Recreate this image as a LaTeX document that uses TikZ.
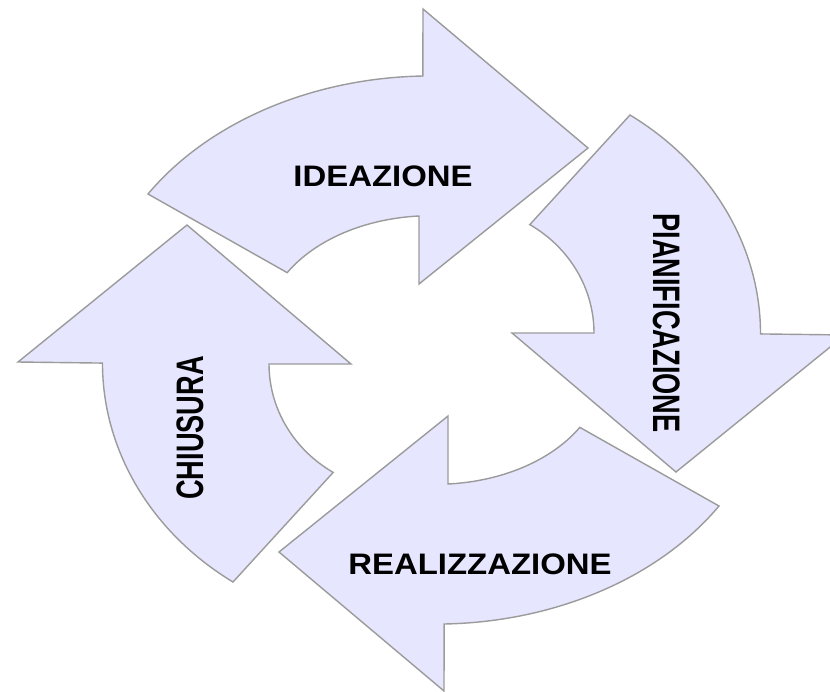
\documentclass[tikz,border=0pt]{standalone}
\usepackage{fontspec}
\setmainfont{Liberation Sans}
\definecolor{lavanda}{RGB}{230,230,255}
\definecolor{grigio}{RGB}{155,155,155}
\tikzset{
  freccia/.style={fill=lavanda,draw=grigio,line width=1.2pt},
  scritta/.style={inner sep=0pt,font=\fontsize{25.3pt}{30pt}\selectfont\bfseries,xscale=1.11},
  scrittav/.style={inner sep=0pt,font=\fontsize{32.7pt}{38pt}\selectfont\bfseries,xscale=0.71}
}
\begin{document}
\begin{tikzpicture}[x=0.03cm,y=-0.03cm]
\useasboundingbox (0,0) rectangle (830,692);
\clip (0,0) rectangle (830,692);

%% freccia in alto
\draw [freccia] (148,194) arc[start angle=147.4,end angle=91.4,x radius=10.08cm,y radius=7.68cm]
  -- (423,9) -- (588,148) -- (419,284) -- (419,216)
  arc[start angle=94.1,end angle=149.4,x radius=5.01cm,y radius=3.48cm] -- cycle;

%% freccia in basso, la stessa girata
\begin{scope}[rotate around={180:(433.5,350)}]
\draw [freccia] (148,194) arc[start angle=147.4,end angle=91.4,x radius=10.08cm,y radius=7.68cm]
  -- (423,9) -- (588,148) -- (419,284) -- (419,216)
  arc[start angle=94.1,end angle=149.4,x radius=5.01cm,y radius=3.48cm] -- cycle;
\end{scope}

%% freccia a destra
\draw [freccia] (630,115) arc[start angle=55.7,end angle=0,x radius=8.97cm,y radius=7.95cm]
  -- (845,335) -- (676,472) -- (512,333) -- (594,333)
  arc[start angle=0,end angle=58.6,x radius=4.02cm,y radius=3.81cm] -- cycle;

%% freccia a sinistra, la stessa girata
\begin{scope}[rotate around={180:(431.5,348.5)}]
\draw [freccia] (630,115) arc[start angle=55.7,end angle=0,x radius=8.97cm,y radius=7.95cm]
  -- (845,335) -- (676,472) -- (512,333) -- (594,333)
  arc[start angle=0,end angle=58.6,x radius=4.02cm,y radius=3.81cm] -- cycle;
\end{scope}

\node [scritta] (ideazione) at (383,176) {IDEAZIONE};
\node [scritta] (realizzazione) at (480,564) {REALIZZAZIONE};
\node [rotate=-90,scrittav] (pianificazione) at (667,323) {PIANIFICAZIONE};
\node [rotate=90,scrittav] (chiusura) at (190,428) {CHIUSURA};

\end{tikzpicture}
\end{document}
